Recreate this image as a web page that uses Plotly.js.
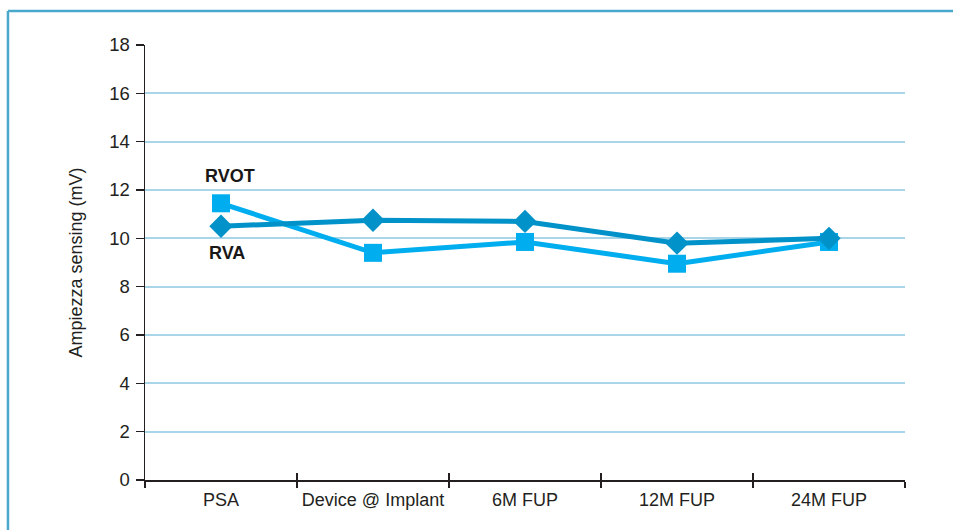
<!DOCTYPE html>
<html>
<head>
<meta charset="utf-8">
<script src="https://cdn.plot.ly/plotly-3.0.1.min.js"></script>
<style>
  html, body { margin: 0; padding: 0; background: #ffffff; overflow: hidden; }
  #chart { width: 953px; height: 530px; }
</style>
</head>
<body>
<div id="chart"></div>
<script>
// Data
const categories = ["PSA", "Device @ Implant", "6M FUP", "12M FUP", "24M FUP"];
const rvaValues  = [10.5, 10.75, 10.7, 9.8, 10.0];
const rvotValues = [11.45, 9.4, 9.85, 8.95, 9.85];
const seriesNames = ["RVA", "RVOT"];
const yTitle = "Ampiezza sensing (mV)";

const colRVA = "#0092c8";
const colRVOT = "#00aeef";
const fontFam = "Liberation Sans, Arial, sans-serif";

const traces = [
  {
    x: categories, y: rvotValues, name: seriesNames[1], type: "scatter", mode: "lines+markers",
    line: { color: colRVOT, width: 5 },
    marker: { symbol: "square", size: 18, color: colRVOT },
    xaxis: "x", yaxis: "y"
  },
  {
    x: categories, y: rvaValues, name: seriesNames[0], type: "scatter", mode: "lines+markers",
    line: { color: colRVA, width: 5 },
    marker: { symbol: "diamond", size: 18, color: colRVA },
    xaxis: "x", yaxis: "y"
  },
  // invisible trace to carry the inner half of the crossing x ticks
  {
    x: categories, y: rvaValues, type: "scatter", mode: "none", hoverinfo: "skip",
    showlegend: false, xaxis: "x2", yaxis: "y"
  }
];

const layout = {
  width: 953, height: 530,
  margin: { l: 145, r: 48, t: 45, b: 50 },
  paper_bgcolor: "#ffffff", plot_bgcolor: "#ffffff",
  showlegend: false,
  font: { family: fontFam, color: "#231f20", size: 18 },
  xaxis: {
    type: "category",
    categoryorder: "array", categoryarray: categories,
    range: [-0.5, 4.5],
    showgrid: false, zeroline: false,
    showline: true, linecolor: "#231f20", linewidth: 1.5,
    ticks: "outside", ticklen: 6, tickwidth: 1.5, tickcolor: "#231f20",
    tickson: "boundaries", ticklabelstandoff: 3, tickangle: 0,
    tickfont: { size: 18, color: "#231f20", family: fontFam }
  },
  xaxis2: {
    type: "category", overlaying: "x", matches: "x",
    categoryorder: "array", categoryarray: categories,
    range: [-0.5, 4.5], side: "bottom",
    showgrid: false, zeroline: false, showline: false,
    ticks: "inside", ticklen: 7, tickwidth: 1.5, tickcolor: "#231f20",
    tickson: "boundaries", showticklabels: false
  },
  yaxis: {
    range: [0, 18], dtick: 2, tick0: 0,
    showgrid: true, gridcolor: "#a8d5e8", gridwidth: 2,
    zeroline: false,
    showline: true, linecolor: "#231f20", linewidth: 1.5,
    ticks: "outside", ticklen: 8, tickwidth: 1.5, tickcolor: "#231f20",
    ticklabelstandoff: 2,
    tickfont: { size: 18.5, color: "#231f20", family: fontFam },
    title: { text: yTitle, font: { size: 18, color: "#231f20", family: fontFam }, standoff: 22 }
  },
  annotations: [
    {
      x: categories[0], y: rvotValues[0], xref: "x", yref: "y",
      text: "<b>" + seriesNames[1] + "</b>", showarrow: false,
      xshift: 9, yshift: 27,
      font: { size: 18, color: "#1a1718", family: fontFam }
    },
    {
      x: categories[0], y: rvaValues[0], xref: "x", yref: "y",
      text: "<b>" + seriesNames[0] + "</b>", showarrow: false,
      xshift: 6, yshift: -27,
      font: { size: 18, color: "#1a1718", family: fontFam }
    }
  ],
  shapes: [
    { type: "line", xref: "paper", yref: "paper", x0: -0.1803, x1: 1.0632, y0: 1.0782, y1: 1.0782,
      line: { color: "#4aa8cc", width: 2.5 } },
    { type: "line", xref: "paper", yref: "paper", x0: -0.1803, x1: -0.1803, y0: 1.0782, y1: -0.115,
      line: { color: "#4aa8cc", width: 2.5 } }
  ]
};

Plotly.newPlot("chart", traces, layout, { displayModeBar: false, staticPlot: true });
</script>
</body>
</html>
